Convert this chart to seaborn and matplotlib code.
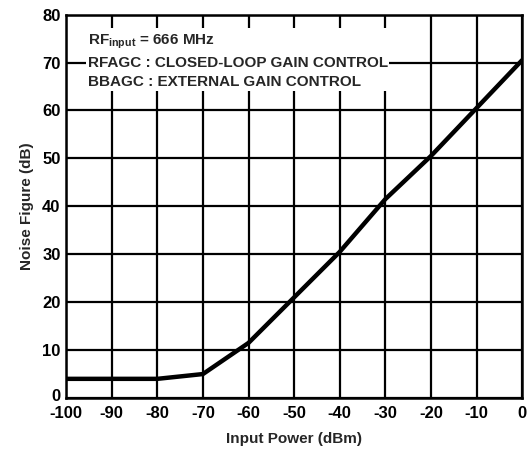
import numpy as np
import pandas as pd
import seaborn as sns
import matplotlib.pyplot as plt
import matplotlib.transforms as mtransforms

# values
input_power = [-100, -90, -80, -70, -60, -50, -40, -30, -20, -10, 0]
noise_figure = [4.0, 4.0, 4.0, 5.0, 11.5, 21.0, 30.5, 41.5, 50.5, 60.5, 70.5]
x_ticks = list(range(-100, 1, 10))
y_ticks = list(range(0, 81, 10))

df = pd.DataFrame({'Input Power (dBm)': input_power, 'Noise Figure (dB)': noise_figure})

sns.set_style('white')
plt.rcParams['font.family'] = ['Liberation Sans', 'DejaVu Sans']
plt.rcParams['font.weight'] = 'bold'
plt.rcParams['axes.unicode_minus'] = False

fig = plt.figure(figsize=(5.29, 4.51), dpi=100)
ax = fig.add_axes([0.125, 0.1175, 0.862, 0.85])

sns.lineplot(data=df, x='Input Power (dBm)', y='Noise Figure (dB)', color='black',
             linewidth=3.2, ax=ax, zorder=5)

ax.set_xlim(-100, 0)
ax.set_ylim(0, 80)
ax.set_xticks(x_ticks)
ax.set_yticks(y_ticks)
ax.grid(True, color='black', linewidth=1.6)
for s in ax.spines.values():
    s.set_color('black')
    s.set_linewidth(1.8)
ax.tick_params(axis='x', length=0, pad=6, labelsize=12, colors='black')
ax.tick_params(axis='y', length=0, pad=4, labelsize=12, colors='black')
for lab in ax.get_xticklabels() + ax.get_yticklabels():
    lab.set_fontweight('bold')
# lift the bottom "0" a little, as in the original
ylabs = ax.get_yticklabels()
ylabs[0].set_transform(ylabs[0].get_transform() +
                       mtransforms.ScaledTranslation(0, 3 / 100, fig.dpi_scale_trans))
ax.set_xlabel('Input Power (dBm)', fontsize=11, fontweight='bold', labelpad=8)
ax.set_ylabel('Noise Figure (dB)', fontsize=11, fontweight='bold', labelpad=6)

ax.text(-95.3, 70.3,
        r'RF$_{\mathregular{input}}$ = 666 MHz' + '\nRFAGC : CLOSED-LOOP GAIN CONTROL\nBBAGC : EXTERNAL GAIN CONTROL',
        fontsize=11, fontweight='bold', va='center', ha='left', linespacing=1.45,
        bbox=dict(facecolor='white', edgecolor='none', pad=1.0), zorder=6)

fig.savefig('out.png', dpi=100)
